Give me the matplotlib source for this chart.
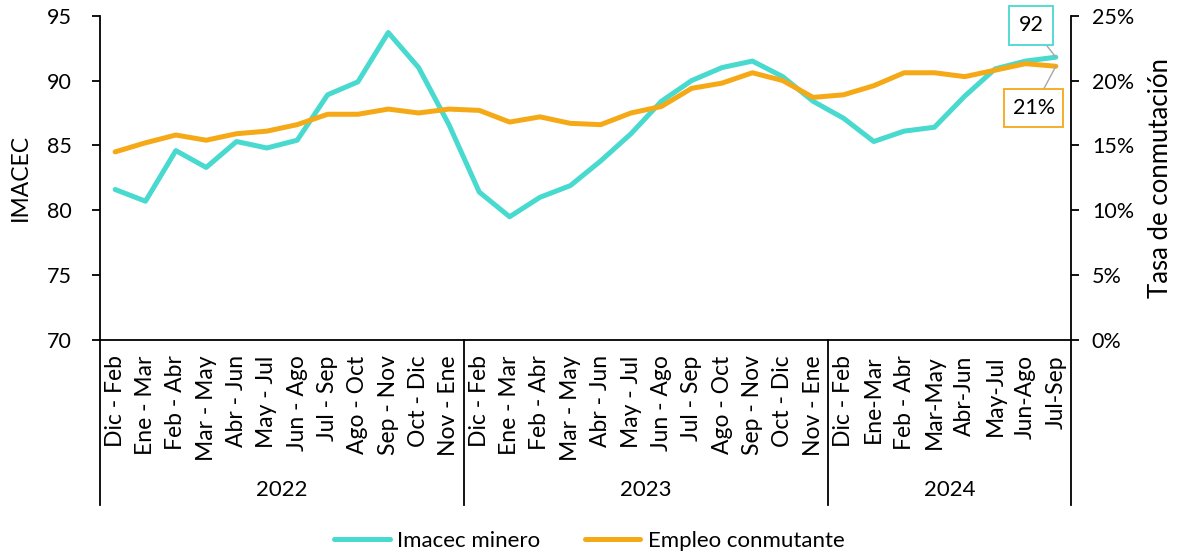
import matplotlib

matplotlib.use("Agg")
import matplotlib.pyplot as plt
import matplotlib.transforms as mtransforms
from matplotlib.ticker import FuncFormatter

plt.rcParams["font.family"] = ["Lato", "DejaVu Sans"]

# Categories (rolling quarters) grouped by year
YEARS = ["2022", "2023", "2024"]
PERIODS_2022 = [
    "Dic - Feb", "Ene - Mar", "Feb - Abr", "Mar - May", "Abr - Jun", "May - Jul",
    "Jun - Ago", "Jul - Sep", "Ago - Oct", "Sep - Nov", "Oct - Dic", "Nov - Ene",
]
PERIODS_2023 = list(PERIODS_2022)
PERIODS_2024 = [
    "Dic - Feb", "Ene-Mar", "Feb - Abr", "Mar-May", "Abr-Jun", "May-Jul",
    "Jun-Ago", "Jul-Sep",
]
PERIODS = [PERIODS_2022, PERIODS_2023, PERIODS_2024]

# Series values
IMACEC_MINERO = [
    81.6, 80.7, 84.6, 83.3, 85.3, 84.8, 85.4, 88.9, 89.9, 93.7, 91.0, 86.6,
    81.4, 79.5, 81.0, 81.9, 83.8, 85.9, 88.4, 90.0, 91.0, 91.5, 90.3, 88.4,
    87.1, 85.3, 86.1, 86.4, 88.8, 90.9, 91.5, 91.8,
]
EMPLEO_CONMUTANTE = [
    14.5, 15.2, 15.8, 15.4, 15.9, 16.1, 16.6, 17.4, 17.4, 17.8, 17.5, 17.8,
    17.7, 16.8, 17.2, 16.7, 16.6, 17.5, 18.0, 19.4, 19.8, 20.6, 20.0, 18.7,
    18.9, 19.6, 20.6, 20.6, 20.3, 20.8, 21.3, 21.1,
]

TEAL = "#48D9CF"
ORANGE = "#F5A917"

labels = [p for group in PERIODS for p in group]
x = list(range(len(labels)))

fig = plt.figure(figsize=(11.79, 5.54), dpi=100)
ax = fig.add_axes([0.0848, 0.3863, 0.9084 - 0.0848, 0.9717 - 0.3863])
ax2 = ax.twinx()

ax.plot(x, IMACEC_MINERO, color=TEAL, lw=3.6, solid_joinstyle="round",
        solid_capstyle="round", label="Imacec minero", zorder=3)
ax2.plot(x, EMPLEO_CONMUTANTE, color=ORANGE, lw=3.6, solid_joinstyle="round",
         solid_capstyle="round", label="Empleo conmutante", zorder=2)

ax.set_xlim(-0.5, len(labels) - 0.5)
ax.set_ylim(70, 95)
ax.set_yticks(range(70, 96, 5))
ax2.set_ylim(0, 25)
ax2.set_yticks(range(0, 26, 5))
ax2.yaxis.set_major_formatter(FuncFormatter(lambda v, _: f"{v:.0f}%"))

for a in (ax, ax2):
    a.spines["top"].set_visible(False)
    for s in a.spines.values():
        s.set_linewidth(1.3)
ax.spines["right"].set_visible(False)
ax2.spines["left"].set_visible(False)
ax2.spines["bottom"].set_visible(False)

ax.tick_params(axis="y", length=6, width=1.3, labelsize=15.5, pad=14)
ax2.tick_params(axis="y", length=6, width=1.3, labelsize=15.5, pad=9)
ax.set_xticks(x)
ax.set_xticklabels(labels, rotation=90, fontsize=16.5)
ax.tick_params(axis="x", length=0, pad=11)

ax.set_ylabel("IMACEC", fontsize=16.5, labelpad=12)
ax2.set_ylabel("Tasa de conmutación", fontsize=18.5, labelpad=10)

# Multi-level category axis: year separators and labels
trans = mtransforms.blended_transform_factory(ax.transData, ax.transAxes)
bounds = [-0.5]
for group in PERIODS:
    bounds.append(bounds[-1] + len(group))
for b in bounds:
    ax.plot([b, b], [0, -0.509], color="black", lw=1.3, transform=trans,
            clip_on=False)
for year, lo, hi in zip(YEARS, bounds[:-1], bounds[1:]):
    ax.text((lo + hi) / 2, -0.463, year, transform=trans, ha="center",
            va="center", fontsize=16)

# End-point labels
last = len(labels) - 1
ax.annotate(
    f"{IMACEC_MINERO[-1]:.0f}", xy=(last, IMACEC_MINERO[-1]),
    xytext=(-18, 23), textcoords="offset points", ha="center", va="center",
    fontsize=15.5,
    bbox={"boxstyle": "square,pad=0.45", "fc": "white", "ec": TEAL, "lw": 1.3},
    arrowprops={"arrowstyle": "-", "color": "#A6A6A6", "lw": 1,
                "shrinkA": 0, "shrinkB": 0},
    zorder=5, annotation_clip=False,
)
ax2.annotate(
    f"{EMPLEO_CONMUTANTE[-1]:.0f}%", xy=(last, EMPLEO_CONMUTANTE[-1]),
    xytext=(-16, -30), textcoords="offset points", ha="center", va="center",
    fontsize=15.5,
    bbox={"boxstyle": "square,pad=0.4", "fc": "white", "ec": ORANGE, "lw": 1.3},
    arrowprops={"arrowstyle": "-", "color": "#A6A6A6", "lw": 1,
                "shrinkA": 0, "shrinkB": 0},
    zorder=5, annotation_clip=False,
)

h1, l1 = ax.get_legend_handles_labels()
h2, l2 = ax2.get_legend_handles_labels()
fig.legend(h1 + h2, l1 + l2, loc="center", bbox_to_anchor=(0.5, 0.024),
           ncol=2, frameon=False, fontsize=16, handlelength=2.5,
           handletextpad=0.35, columnspacing=2.0)

fig.savefig("out.png", dpi=100)
